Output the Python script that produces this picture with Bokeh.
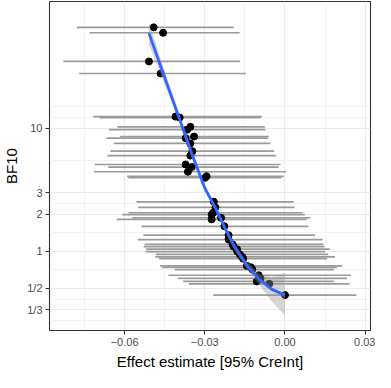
from bokeh.plotting import figure
from bokeh.models import Range1d, FixedTicker, ColumnDataSource
from bokeh.embed import file_html
from bokeh.resources import INLINE

# ---- data ----
bf10 = [66.5, 60.1, 35.1, 28.0, 12.49, 12.27, 10.31, 9.77, 8.60, 8.34, 7.55, 6.53,
        6.01, 5.09, 4.85, 4.44, 4.08, 3.97, 2.53, 2.28, 2.06, 1.99, 1.875, 1.82,
        1.598, 1.352, 1.246, 1.137, 1.091, 1.04, 0.995, 0.943, 0.902, 0.871, 0.762,
        0.740, 0.710, 0.638, 0.602, 0.569, 0.544, 0.440]
estimate = [-0.04912, -0.04560, -0.05088, -0.04652, -0.04096, -0.03938, -0.03541,
            -0.03657, -0.03400, -0.03717, -0.03541, -0.03463, -0.03541, -0.03717,
            -0.03481, -0.03632, -0.02936, -0.02989, -0.02662, -0.02602, -0.02690,
            -0.02743, -0.02391, -0.02743, -0.02268, -0.02110, -0.02110, -0.01959,
            -0.01923, -0.01793, -0.01783, -0.01688, -0.01607, -0.01565, -0.01431,
            -0.01276, -0.01220, -0.00985, -0.00914, -0.01055, -0.00587, 0.0]
cri_lower = [-0.07781, -0.07314, -0.08288, -0.07700, -0.07173, -0.06937, -0.06269,
             -0.06586, -0.06178, -0.06681, -0.06410, -0.06530, -0.06646, -0.07113,
             -0.06610, -0.07148, -0.05907, -0.05861, -0.05556, -0.05496, -0.05854,
             -0.06093, -0.05731, -0.06294, -0.05369, -0.05299, -0.05503, -0.05250,
             -0.05285, -0.05193, -0.05214, -0.04828, -0.04852, -0.04712, -0.04677,
             -0.04596, -0.04124, -0.04360, -0.04008, -0.03808, -0.03597, -0.02683]
cri_upper = [-0.01923, -0.01698, -0.01688, -0.01466, -0.00868, -0.00914, -0.00749,
             -0.00728, -0.00608, -0.00633, -0.00545, -0.00397, -0.00341, -0.00165,
             -0.00236, 0.00046, -0.00046, -0.00141, 0.00327, 0.00352, 0.00658,
             0.00738, 0.00949, 0.00819, 0.00879, 0.01125, 0.01406, 0.01442, 0.01477,
             0.01677, 0.01501, 0.01617, 0.01874, 0.01582, 0.02145, 0.01944, 0.01828,
             0.02472, 0.02321, 0.01828, 0.02416, 0.02672]

# loess smooth (fit and band)
smooth_est = [-0.0509, -0.0450, -0.0400, -0.0350, -0.0300, -0.0258, -0.0225,
              -0.0190, -0.0143, -0.0096, -0.0049, 0.0]
smooth_bf = [59.7, 26.0, 12.9, 6.34, 3.27, 2.21, 1.55, 1.10, 0.77, 0.59, 0.49, 0.44]
smooth_lo = [48.2, 23.0, 11.8, 5.90, 3.07, 2.10, 1.47, 1.04, 0.716, 0.531, 0.389, 0.30]
smooth_hi = [74.0, 29.4, 14.1, 6.81, 3.48, 2.33, 1.63, 1.16, 0.826, 0.656, 0.617, 0.67]

x_ticks = [-0.06, -0.03, 0.0, 0.03]
x_tick_labels = ["\u22120.06", "\u22120.03", "0.00", "0.03"]
x_minor = [-0.075, -0.045, -0.015, 0.015]
y_ticks = [1 / 3, 1 / 2, 1, 2, 3, 10]
y_tick_labels = ["1/3", "1/2", "1", "2", "3", "10"]
y_minor = [0.272, 0.408, 0.707, 1.414, 2.449, 5.477, 12.3, 15.1]

FONT = "Liberation Sans"

p = figure(width=375, height=372, y_axis_type="log",
           x_range=Range1d(-0.0881, 0.032), y_range=Range1d(0.2266, 108),
           output_backend="svg", toolbar_location=None,
           min_border_left=30, min_border_right=5, min_border_top=1,
           min_border_bottom=30)
p.background_fill_color = "white"
p.border_fill_color = "white"
p.outline_line_color = "#333333"
p.outline_line_width = 1.1

# grids
p.xgrid.ticker = FixedTicker(ticks=x_ticks, minor_ticks=x_minor)
p.ygrid.ticker = FixedTicker(ticks=y_ticks, minor_ticks=y_minor)
for g in (p.xgrid, p.ygrid):
    g.grid_line_color = "#EBEBEB"
    g.grid_line_width = 1.1
    g.minor_grid_line_color = "#EBEBEB"
    g.minor_grid_line_width = 0.6

# axes
p.xaxis.ticker = FixedTicker(ticks=x_ticks)
p.yaxis.ticker = FixedTicker(ticks=y_ticks)
p.xaxis.major_label_overrides = {t: l for t, l in zip(x_ticks, x_tick_labels)}
p.yaxis.major_label_overrides = {t: l for t, l in zip(y_ticks, y_tick_labels)}
for ax in (p.xaxis, p.yaxis):
    ax.axis_line_color = None
    ax.major_tick_line_color = "#333333"
    ax.major_tick_line_width = 1.1
    ax.major_tick_in = 0
    ax.major_tick_out = 4
    ax.minor_tick_line_color = None
    ax.major_label_text_font = FONT
    ax.major_label_text_font_size = "11px"
    ax.major_label_text_color = "#4D4D4D"
    ax.axis_label_text_font = FONT
    ax.axis_label_text_font_size = "15px"
    ax.axis_label_text_font_style = "normal"
    ax.axis_label_text_color = "black"
    ax.major_label_standoff = 3
    ax.axis_label_standoff = 4
p.xaxis.axis_label = "Effect estimate [95% CreInt]"
p.yaxis.axis_label = "BF10"

src = ColumnDataSource(dict(bf=bf10, est=estimate, lo=cri_lower, hi=cri_upper))
p.segment(x0="lo", y0="bf", x1="hi", y1="bf", source=src,
          line_color="#9A9A9A", line_width=1.7)
p.scatter(x="est", y="bf", source=src, size=7, fill_color="black",
          line_color="black")

sm = ColumnDataSource(dict(x=smooth_est, y=smooth_bf, lo=smooth_lo, hi=smooth_hi))
p.varea(x="x", y1="lo", y2="hi", source=sm, fill_color="#999999", fill_alpha=0.4)
p.line(x="x", y="y", source=sm, line_color="#3366FF", line_width=2.8)

open("out.html", "w").write(file_html(p, INLINE))
